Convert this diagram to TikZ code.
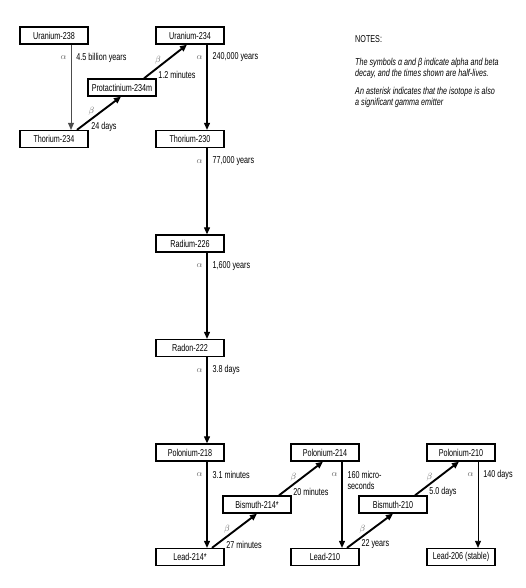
\documentclass[tikz,border=0pt]{standalone}
\usepackage{fontspec}
\setmainfont{Liberation Sans}
\newfontfamily\narrowfont[FakeStretch=0.72]{Liberation Sans}
\usetikzlibrary{arrows.meta,positioning}

\begin{document}
\begin{tikzpicture}[x=1pt,y=-1pt, every node/.style={font=\narrowfont\fontsize{10}{11}\selectfont,inner sep=0pt,text=black},
iso/.style={draw,line width=1.3pt,minimum width=68pt,minimum height=17pt},
alph/.style={-{Triangle[length=7pt,width=6pt]},line width=1.1pt},
bet/.style={alph,line width=1.9pt},
sym/.style={text=black!60,font=\small},>=Stealth]
\useasboundingbox[fill=white] (0,0) rectangle (526,588);
\node[iso] (u238) at (54,35.5) {Uranium-238};\node[iso] (u234) at (190,35.5) {Uranium-234};
\node[iso] (pa234) at (122,87.5) {Protactinium-234m};
\node[iso] (th234) at (54,139) {Thorium-234};\node[iso] (th230) at (190,139) {Thorium-230};
\node[iso] (ra226) at (190,243.5) {Radium-226};
\node[iso] (rn222) at (190,348) {Radon-222};
\node[iso] (po218) at (190,452.5) {Polonium-218};\node[iso] (po214) at (325,452.5) {Polonium-214};\node[iso] (po210) at (461,452.5) {Polonium-210};
\node[iso] (bi214) at (257,504.5) {Bismuth-214*};\node[iso] (bi210) at (393,504.5) {Bismuth-210};
\node[iso] (pb214) at (190,557) {Lead-214*};\node[iso] (pb210) at (325,557) {Lead-210};\node[iso] (pb206) at (461,557) {Lead-206 (stable)};
% alpha decays
\draw[alph,line width=0.7pt,black!70] ([xshift=17pt]u238.south) -- ([xshift=17pt]th234.north) node[pos=0.15,sym,left=4pt] {$\alpha$} node[pos=0.15,right=5pt] {4.5 billion years};
\draw[alph] ([xshift=17pt]u234.south) -- ([xshift=17pt]th230.north) node[pos=0.15,sym,left=4pt] {$\alpha$} node[pos=0.15,right=5pt] {240,000 years};
\draw[alph] ([xshift=17pt]th230.south) -- ([xshift=17pt]ra226.north) node[pos=0.15,sym,left=4pt] {$\alpha$} node[pos=0.15,right=5pt] {77,000 years};
\draw[alph] ([xshift=17pt]ra226.south) -- ([xshift=17pt]rn222.north) node[pos=0.15,sym,left=4pt] {$\alpha$} node[pos=0.15,right=5pt] {1,600 years};
\draw[alph] ([xshift=17pt]rn222.south) -- ([xshift=17pt]po218.north) node[pos=0.15,sym,left=4pt] {$\alpha$} node[pos=0.15,right=5pt] {3.8 days};
\draw[alph] ([xshift=17pt]po218.south) -- ([xshift=17pt]pb214.north) node[pos=0.15,sym,left=4pt] {$\alpha$} node[pos=0.15,right=5pt] {3.1 minutes};
\draw[alph] ([xshift=17pt]po214.south) -- ([xshift=17pt]pb210.north) node[pos=0.15,sym,left=4pt] {$\alpha$} node[pos=0.15,anchor=north west,xshift=5pt,yshift=4pt,align=left] {160 micro-\\seconds};
\draw[alph,line width=0.8pt] ([xshift=17pt]po210.south) -- ([xshift=17pt]pb206.north) node[pos=0.15,sym,left=4pt] {$\alpha$} node[pos=0.15,right=5pt] {140 days};
% beta decays
\draw[bet] ([xshift=23pt]th234.north) -- ([xshift=-1pt]pa234.south) node[pos=0.55,sym,left=6pt] {$\beta$} node[pos=0.1,right=9pt] {24 days};
\draw[bet] ([xshift=22pt]pa234.north) -- ([xshift=-3pt]u234.south) node[pos=0.55,sym,left=6pt] {$\beta$} node[pos=0.1,right=9pt] {1.2 minutes};
\draw[bet] ([xshift=22pt]pb214.north) -- (bi214.south) node[pos=0.55,sym,left=6pt] {$\beta$} node[pos=0.1,right=9pt] {27 minutes};
\draw[bet] ([xshift=22pt]bi214.north) -- ([xshift=-2pt]po214.south) node[pos=0.55,sym,left=6pt] {$\beta$} node[pos=0.1,right=9pt] {20 minutes};
\draw[bet] ([xshift=22pt]pb210.north) -- (bi210.south) node[pos=0.55,sym,left=6pt] {$\beta$} node[pos=0.1,right=9pt] {22 years};
\draw[bet] ([xshift=22pt]bi210.north) -- ([xshift=-2pt]po210.south) node[pos=0.55,sym,left=6pt] {$\beta$} node[pos=0.1,right=9pt] {5.0 days};
% notes
\node[anchor=west] (notes) at (355,39) {NOTES:};
\node[anchor=north west,align=left,font=\narrowfont\itshape\fontsize{10}{11}\selectfont] (note1) at (355,58) {The symbols α and β indicate alpha and beta\\decay, and the times shown are half-lives.};
\node[anchor=north west,align=left,font=\narrowfont\itshape\fontsize{10}{11}\selectfont] (note2) at (355,87) {An asterisk indicates that the isotope is also\\a significant gamma emitter};
\end{tikzpicture}
\end{document}
